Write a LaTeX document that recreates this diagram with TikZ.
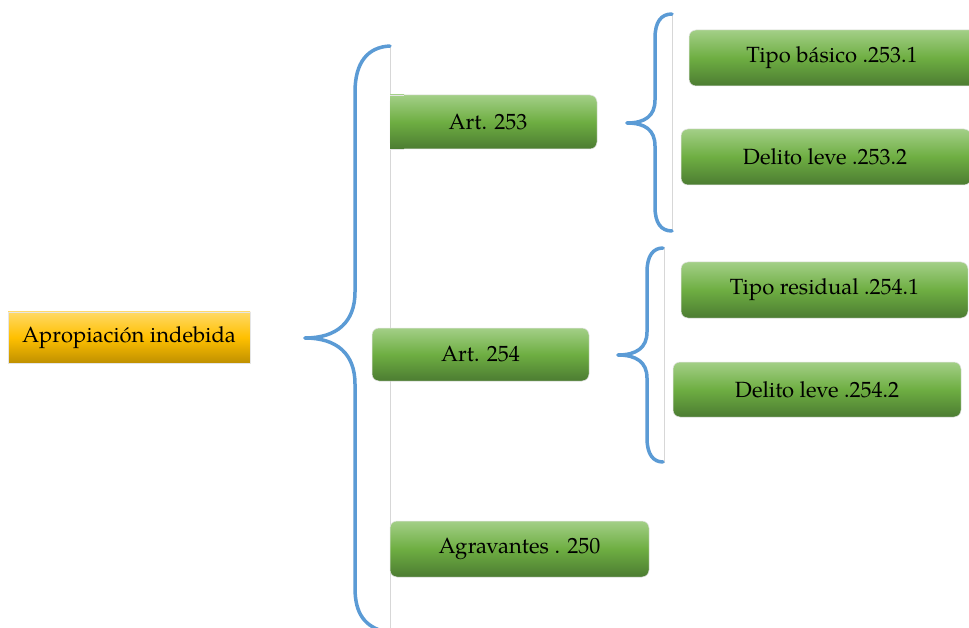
\documentclass[tikz,border=0pt]{standalone}
\usepackage{fontspec}
\setmainfont{TeX Gyre Pagella}
\definecolor{g1}{RGB}{163,207,135}
\definecolor{g2}{RGB}{110,174,66}
\definecolor{g3}{RGB}{76,124,50}
\definecolor{y1}{RGB}{255,217,102}
\definecolor{y2}{RGB}{255,192,0}
\definecolor{y3}{RGB}{191,144,0}
\definecolor{braceblue}{RGB}{91,155,213}
\definecolor{guide}{RGB}{215,215,215}
\begin{document}
\begin{tikzpicture}[x=1pt,y=-1pt,
  gbox/.style={rectangle, rounded corners=7pt, draw=black!10, line width=0.5pt,
    top color=g1, bottom color=g3, middle color=g2,
    font=\fontsize{22}{26}\selectfont, inner sep=0pt, text=black},
  sqbox/.style={rectangle, top color=g1, bottom color=g3, middle color=g2, inner sep=0pt},
  ybox/.style={rectangle, draw=black!10, line width=0.5pt,
    top color=y1, bottom color=y3, middle color=y2,
    font=\fontsize{22}{26}\selectfont, inner sep=0pt, text=black},
  bracepath/.style={draw=braceblue, line width=3.5pt, line cap=round},
  guideline/.style={draw=guide, line width=0.8pt}]
\useasboundingbox (0,0) rectangle (969,628);
\clip (0,0) rectangle (969,628);
\fill[white] (0,0) rectangle (969,628);

% guide lines
\coordinate (g1t) at (390,45);  \coordinate (g1b) at (390,628);
\coordinate (g2t) at (672,13);  \coordinate (g2b) at (672,232);
\coordinate (g3t) at (664,247); \coordinate (g3b) at (664,463);
\draw[guideline] (g1t) -- (g1b);
\draw[guideline] (g2t) -- (g2b);
\draw[guideline] (g3t) -- (g3b);

% root
\node[ybox, minimum width=242pt, minimum height=51pt] (root) at (129,337.5) {Apropiación indebida};

% big brace
\draw[bracepath] (305,338) .. controls (337,338) and (355,322) .. (355,292)
  -- (355,92) .. controls (355,62) and (368,47) .. (390,46);
\draw[bracepath] (305,338) .. controls (337,338) and (355,354) .. (355,384)
  -- (355,588) .. controls (355,614) and (365,627) .. (386,632);

% upper right brace
\draw[bracepath] (627,123) .. controls (645,123) and (655,116) .. (655,100)
  -- (655,38) .. controls (655,22) and (661,14) .. (672,14);
\draw[bracepath] (627,123) .. controls (645,123) and (655,130) .. (655,146)
  -- (655,207) .. controls (655,223) and (661,231) .. (672,231);

% lower right brace
\draw[bracepath] (618,355) .. controls (636,355) and (647,348) .. (647,332)
  -- (647,272) .. controls (647,256) and (653,248) .. (663,248);
\draw[bracepath] (618,355) .. controls (636,355) and (647,362) .. (647,378)
  -- (647,438) .. controls (647,454) and (653,462) .. (663,462);

% level 1 boxes
\node[gbox, minimum width=207pt, minimum height=54pt] (a253) at (493.5,122) {};
\node[sqbox, minimum width=14pt, minimum height=54pt, anchor=west] (a253l) at (390,122) {};
\draw[draw=black!10, line width=0.5pt] (a253l.north west) -- (a253l.north east)
  (a253l.south west) -- (a253l.south east);
\node[font=\fontsize{22}{26}\selectfont, text=black] (a253t) at (488,122) {Art. 253};

\node[gbox, minimum width=217pt, minimum height=53pt] (a254) at (480.5,354.5) {Art. 254};
\node[gbox, minimum width=259pt, minimum height=56pt] (agr) at (519.5,549) {Agravantes . 250};

% level 2 boxes
\node[gbox, minimum width=290pt, minimum height=56pt] (tb) at (834,58) {};
\node[font=\fontsize{22}{26}\selectfont, text=black] (tbt) at (832,58) {Tipo básico .253.1};
\node[gbox, minimum width=290pt, minimum height=56pt] (dl1) at (826,157) {};
\node[font=\fontsize{22}{26}\selectfont, text=black] (dl1t) at (825,157) {Delito leve .253.2};
\node[gbox, minimum width=287pt, minimum height=56pt] (tr) at (824.5,290) {Tipo residual .254.1};
\node[gbox, minimum width=288pt, minimum height=55pt] (dl2) at (817,389.5) {Delito leve .254.2};
\end{tikzpicture}
\end{document}
